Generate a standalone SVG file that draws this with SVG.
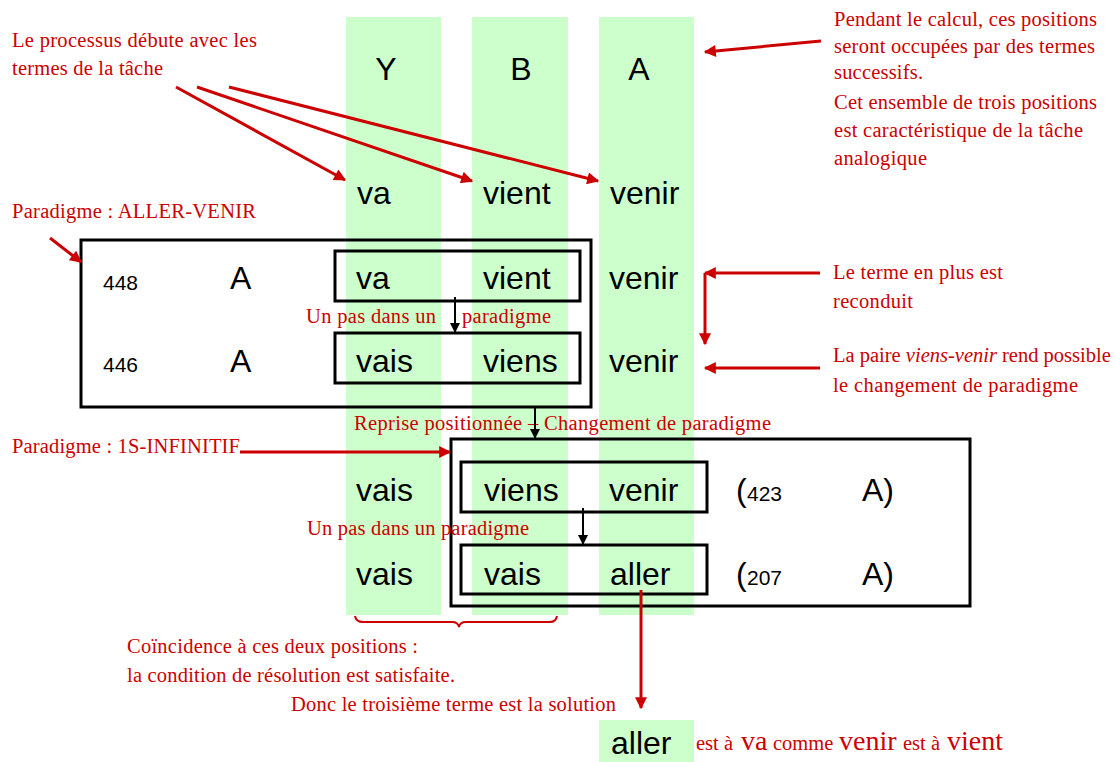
<svg xmlns="http://www.w3.org/2000/svg" width="1115" height="762" viewBox="0 0 1115 762">
<style>
.r{font-family:"Liberation Serif","Times New Roman",serif;font-size:20.5px;fill:#cc0000}
.k{font-family:"Liberation Sans",Arial,sans-serif;font-size:32px;fill:#000}
.n{font-size:21px}
.col{fill:#ccffcc}
.box{fill:none;stroke:#000;stroke-width:3}
.ra{fill:none;stroke:#cc0000;stroke-width:3;marker-end:url(#rh)}
.ka{fill:none;stroke:#000;stroke-width:2;marker-end:url(#kh)}
</style>
<defs>
<marker id="rh" viewBox="0 0 10 10" refX="9" refY="5" markerWidth="14" markerHeight="12" markerUnits="userSpaceOnUse" orient="auto"><path d="M0,0 L10,5 L0,10 z" fill="#cc0000"/></marker>
<marker id="kh" viewBox="0 0 10 10" refX="9" refY="5" markerWidth="13" markerHeight="10" markerUnits="userSpaceOnUse" orient="auto"><path d="M0,0 L10,5 L0,10 z" fill="#000"/></marker>
</defs>
<rect width="1115" height="762" fill="#fff"/>
<g id="columns">
<rect class="col" x="346" y="17" width="95" height="598"/>
<rect class="col" x="472" y="17" width="96" height="598"/>
<rect class="col" x="599" y="17" width="95" height="598"/>
</g>
<g id="header" class="k">
<text x="386" y="80" text-anchor="middle">Y</text>
<text x="521" y="80" text-anchor="middle">B</text>
<text x="639" y="80" text-anchor="middle">A</text>
</g>
<g id="task" class="k">
<text x="357" y="204">va</text>
<text x="483" y="204">vient</text>
<text x="610" y="204">venir</text>
</g>
<g id="paradigm1">
<rect class="box" x="81" y="240" width="510" height="167"/>
<rect class="box" x="335" y="251" width="245" height="50"/>
<rect class="box" x="335" y="333" width="245" height="50"/>
<text class="k n" x="103" y="290">448</text>
<text class="k" x="230" y="289">A</text>
<text class="k" x="356" y="289">va</text>
<text class="k" x="483" y="289">vient</text>
<text class="k" x="609" y="289">venir</text>
<text class="k n" x="103" y="372">446</text>
<text class="k" x="230" y="372">A</text>
<text class="k" x="356" y="372">vais</text>
<text class="k" x="483" y="372">viens</text>
<text class="k" x="609" y="372">venir</text>
</g>
<g id="paradigm2">
<rect class="box" x="451" y="439" width="519" height="167"/>
<rect class="box" x="461" y="462" width="246" height="50"/>
<rect class="box" x="461" y="545" width="246" height="49"/>
<text class="k" x="356" y="501">vais</text>
<text class="k" x="484" y="501">viens</text>
<text class="k" x="609" y="501">venir</text>
<text class="k" x="736" y="501">(<tspan class="n" x="747">423</tspan></text>
<text class="k" x="862" y="501">A)</text>
<text class="k" x="356" y="585">vais</text>
<text class="k" x="484" y="585">vais</text>
<text class="k" x="610" y="585">aller</text>
<text class="k" x="736" y="585">(<tspan class="n" x="747">207</tspan></text>
<text class="k" x="862" y="585">A)</text>
</g>
<g id="solution">
<rect class="col" x="599" y="720" width="95" height="42"/>
<text class="k" x="611" y="754">aller</text>
<text class="r" y="750"><tspan x="696">est à</tspan><tspan x="741" font-size="28">va</tspan><tspan x="773">comme</tspan><tspan x="839" font-size="28">venir</tspan><tspan x="903">est à</tspan><tspan x="947" font-size="28">vient</tspan></text>
</g>
<g id="labels" class="r">
<text x="12" y="47" textLength="245">Le processus débute avec les</text>
<text x="12" y="75" textLength="151">termes de la tâche</text>
<text x="834" y="26" textLength="263">Pendant le calcul, ces positions</text>
<text x="834" y="53" textLength="261">seront occupées par des termes</text>
<text x="834" y="79" textLength="89">successifs.</text>
<text x="834" y="109" textLength="263">Cet ensemble de trois positions</text>
<text x="834" y="137" textLength="249">est caractéristique de la tâche</text>
<text x="834" y="165" textLength="93">analogique</text>
<text x="12" y="218" textLength="244">Paradigme : ALLER-VENIR</text>
<text x="833" y="279" textLength="170">Le terme en plus est</text>
<text x="833" y="308" textLength="80">reconduit</text>
<text x="833" y="362">La paire <tspan font-style="italic">viens-venir</tspan> rend possible</text>
<text x="833" y="392" textLength="245">le changement de paradigme</text>
<text x="306" y="323" textLength="130">Un pas dans un</text>
<text x="462" y="323" textLength="89">paradigme</text>
<text x="354" y="430" textLength="417">Reprise positionnée – Changement de paradigme</text>
<text x="12" y="453" textLength="228">Paradigme : 1S-INFINITIF</text>
<text x="307" y="535" textLength="222">Un pas dans un paradigme</text>
<text x="127" y="653" textLength="291">Coïncidence à ces deux positions :</text>
<text x="127" y="682" textLength="328">la condition de résolution est satisfaite.</text>
<text x="291" y="711" textLength="325">Donc le troisième terme est la solution</text>
</g>
<g id="connectors">
<line class="ra" x1="176" y1="87" x2="345" y2="180"/>
<line class="ra" x1="197" y1="87" x2="472" y2="181"/>
<line class="ra" x1="229" y1="87" x2="598" y2="181"/>
<line class="ra" x1="821" y1="41" x2="705" y2="52"/>
<line class="ra" x1="50" y1="238" x2="81" y2="262"/>
<line class="ra" x1="820" y1="273" x2="705" y2="273"/>
<line class="ra" x1="705" y1="273" x2="705" y2="344"/>
<line class="ra" x1="820" y1="368" x2="705" y2="368"/>
<line class="ra" x1="240" y1="452" x2="450" y2="452"/>
<line class="ra" x1="641" y1="590" x2="641" y2="708"/>
<line class="ka" x1="455" y1="297" x2="455" y2="332"/>
<line class="ka" x1="535" y1="407" x2="535" y2="438"/>
<line class="ka" x1="583" y1="508" x2="583" y2="544"/>
<path d="M355,616 Q356,622 363,622 L452,622 Q458,622 459,627 Q460,622 466,622 L550,622 Q556,622 557,616" fill="none" stroke="#cc0000" stroke-width="2"/>
</g>
</svg>
